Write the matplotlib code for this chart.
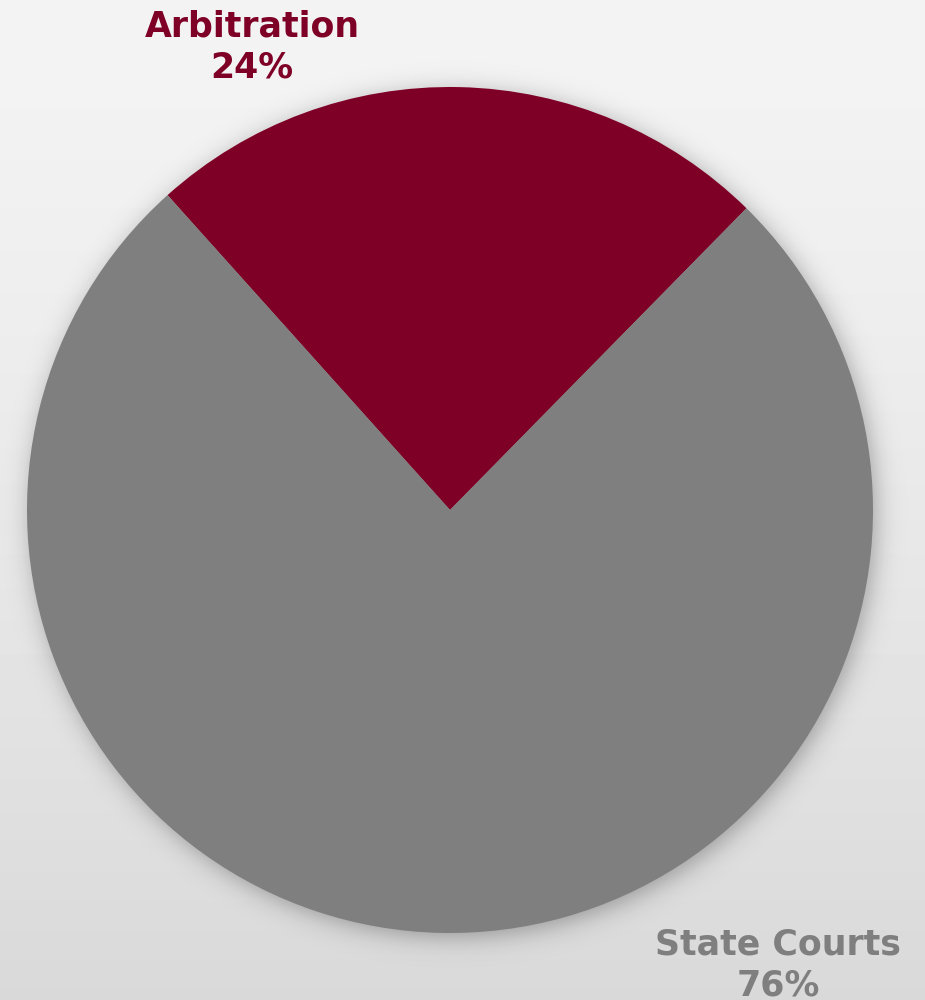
import matplotlib
matplotlib.use("Agg")
import matplotlib.pyplot as plt
import numpy as np


# =====================================================
# DATA
# =====================================================

labels = ["Arbitration", "State Courts"]
shares = [24, 76]
colors = ["#7f0026", "#7f7f7f"]


# =====================================================
# FIGURE + BACKGROUND
# =====================================================

W, H = 925, 1000
fig = plt.figure(figsize=(W / 100, H / 100), dpi=100)
ax = fig.add_axes([0, 0, 1, 1])

# vertical light-gray gradient (row 0 = top)
yy = np.linspace(0, 1, H)[:, None]
bg = 0.955 - 0.105 * yy ** 1.3
bg = np.repeat(bg, W, axis=1)
ax.imshow(bg, cmap="gray", vmin=0, vmax=1, extent=(0, W, 0, H),
          origin="upper", zorder=0, aspect="auto")


# =====================================================
# PIE WITH SOFT SHADOW
# =====================================================

cx, cy, r = 450, 490, 423

# soft shadow: blurred disk slightly offset down-right
gx, gy = np.meshgrid(np.arange(W), np.arange(H))
dist = np.sqrt((gx - (cx + 3)) ** 2 + (gy - (H - cy + 4)) ** 2)
sigma = 7.0
shadow = 1 / (1 + np.exp((dist - r) / sigma))
rgba = np.zeros((H, W, 4))
rgba[..., 3] = 0.30 * shadow
ax.imshow(rgba, extent=(0, W, 0, H), origin="upper", zorder=1,
          aspect="auto", interpolation="bilinear")

start = 90 - shares[0] * 3.6 / 2 - 1.3
wedges, _ = ax.pie(
    shares,
    colors=colors,
    startangle=start,
    counterclock=True,
    center=(cx, cy),
    radius=r,
    frame=True,
    wedgeprops=dict(linewidth=0, zorder=2),
)
ax.set_xlim(0, W)
ax.set_ylim(0, H)
ax.set_aspect("equal")
ax.axis("off")


# =====================================================
# LABELS
# =====================================================

label_pos = [(252, H - 47), (778, H - 965)]
for lab, val, col, (lx, ly) in zip(labels, shares, colors, label_pos):
    ax.text(
        lx, ly,
        f"{lab}\n{val}%",
        ha="center",
        va="center",
        fontsize=25,
        fontweight="bold",
        color=col,
        family="DejaVu Sans",
        linespacing=1.28,
        zorder=3,
    )


plt.savefig("out.png", dpi=100)
plt.close()
